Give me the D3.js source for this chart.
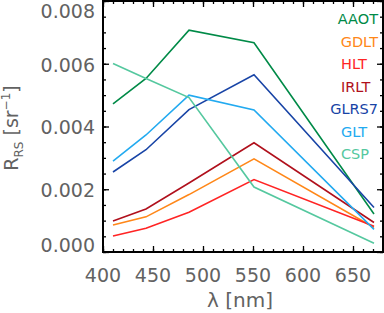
<!doctype html>
<html>
  <head>
    <script src="https://cdn.jsdelivr.net/npm/d3@7/dist/d3.min.js"></script>
    <style>
      body { margin: 0; background: #fff; }
      text { font-family: "DejaVu Sans", sans-serif; }
    </style>
  </head>
  <body>
    <svg id="chart" width="384" height="313"></svg>
    <script>
      // wavelengths (nm) and remote sensing reflectance per site (sr^-1)
      const wavelengths = [410, 443, 486, 551, 671];
      const sites = ["AAOT", "GDLT", "HLT", "IRLT", "GLRS7", "GLT", "CSP"];
      const AAOT  = [0.00472, 0.00553, 0.00707, 0.00667, 0.00121];
      const GDLT  = [0.00086, 0.00112, 0.00183, 0.00297, 0.00078];
      const HLT   = [0.00051, 0.00076, 0.00127, 0.00231, 0.00082];
      const IRLT  = [0.00099, 0.00137, 0.00220, 0.00348, 0.00094];
      const GLRS7 = [0.00255, 0.00326, 0.00454, 0.00565, 0.00142];
      const GLT   = [0.00290, 0.00373, 0.00500, 0.00453, 0.00072];
      const CSP   = [0.00601, 0.00553, 0.00492, 0.00207, 0.00028];
      const xTickValues = [400, 450, 500, 550, 600, 650];
      const yTickValues = [0, 0.002, 0.004, 0.006, 0.008];

      const values = { AAOT, GDLT, HLT, IRLT, GLRS7, GLT, CSP };
      const colors = {
        AAOT: "#008a47", GDLT: "#ff8718", HLT: "#ff2424", IRLT: "#b0101c",
        GLRS7: "#1844a6", GLT: "#22aaf0", CSP: "#55c89f"
      };

      const pLeft = 103, pRight = 383, pTop = 1, pBottom = 252;
      const svg = d3.select("#chart");

      const xScale = d3.scaleLinear().domain([400, 680]).range([pLeft, pRight]);
      const yScale = d3.scaleLinear().domain([0, 0.008]).range([pBottom, pTop]);

      const labelColor = "#626262";

      // lines
      const line = d3.line()
        .x((d, i) => xScale(wavelengths[i]))
        .y(d => yScale(d));

      svg.append("g").selectAll("path")
        .data(sites)
        .enter()
        .append("path")
          .attr("d", s => line(values[s]))
          .style("fill", "none")
          .style("stroke", s => colors[s])
          .style("stroke-width", 1.6)
          .style("stroke-linejoin", "miter");

      // ticks on all four sides, pointing inward
      const xMinor = d3.range(400, 681, 10);
      const yMinor = d3.range(0, 0.00801, 0.0005);

      function addAxis(axisFn, scale, vals, size, transform) {
        const ax = axisFn(scale).tickValues(vals).tickSize(size).tickFormat("");
        const g = svg.append("g").attr("transform", transform).call(ax);
        g.select(".domain").remove();
        g.selectAll("line").style("stroke", "#000").style("stroke-width", 1.3);
      }
      addAxis(d3.axisBottom, xScale, xMinor, -3, `translate(0,${pBottom})`);
      addAxis(d3.axisBottom, xScale, xTickValues, -6, `translate(0,${pBottom})`);
      addAxis(d3.axisTop, xScale, xMinor, -3, `translate(0,${pTop})`);
      addAxis(d3.axisTop, xScale, xTickValues, -6, `translate(0,${pTop})`);
      addAxis(d3.axisLeft, yScale, yMinor, -3, `translate(${pLeft},0)`);
      addAxis(d3.axisLeft, yScale, yTickValues, -6, `translate(${pLeft},0)`);
      addAxis(d3.axisRight, yScale, yMinor, -3, `translate(${pRight},0)`);
      addAxis(d3.axisRight, yScale, yTickValues, -6, `translate(${pRight},0)`);

      // frame
      svg.append("rect")
        .attr("x", pLeft).attr("y", pTop)
        .attr("width", pRight - pLeft).attr("height", pBottom - pTop)
        .style("fill", "none").style("stroke", "#000").style("stroke-width", 2);

      // tick labels
      svg.append("g").selectAll("text")
        .data(xTickValues)
        .enter()
        .append("text")
          .attr("x", d => xScale(d))
          .attr("y", 282)
          .attr("text-anchor", "middle")
          .style("font-size", "19px")
          .style("fill", labelColor)
          .text(d => d);

      svg.append("g").selectAll("text")
        .data(yTickValues)
        .enter()
        .append("text")
          .attr("x", 95)
          .attr("y", d => Math.max(pTop + 10, Math.min(pBottom - 7, yScale(d) + 1)))
          .attr("dy", "0.36em")
          .attr("text-anchor", "end")
          .style("font-size", "19px")
          .style("fill", labelColor)
          .text(d => d3.format(".3f")(d));

      // axis titles
      svg.append("text")
        .attr("x", 240)
        .attr("y", 307)
        .attr("text-anchor", "middle")
        .style("font-size", "20px")
        .style("fill", labelColor)
        .text("λ [nm]");

      const yTitle = svg.append("text")
        .attr("transform", "translate(18,128) rotate(-90)")
        .attr("text-anchor", "middle")
        .style("font-size", "19px")
        .style("fill", labelColor);
      yTitle.append("tspan").text("R");
      yTitle.append("tspan").attr("dy", 5).style("font-size", "12px").text("RS");
      yTitle.append("tspan").attr("dy", -5).text(" [sr");
      yTitle.append("tspan").attr("dy", -8).style("font-size", "12px").text("−1");
      yTitle.append("tspan").attr("dy", 8).text("]");

      // legend
      const legend = svg.append("g").selectAll("text")
        .data(sites)
        .enter()
        .append("text")
          .attr("y", (d, i) => 24 + i * 22.5)
          .style("font-size", "14.5px")
          .style("fill", d => colors[d])
          .text(d => d);
      legend.attr("x", function() {
        return Math.min(341, 378 - this.getComputedTextLength());
      });
    </script>
  </body>
</html>
